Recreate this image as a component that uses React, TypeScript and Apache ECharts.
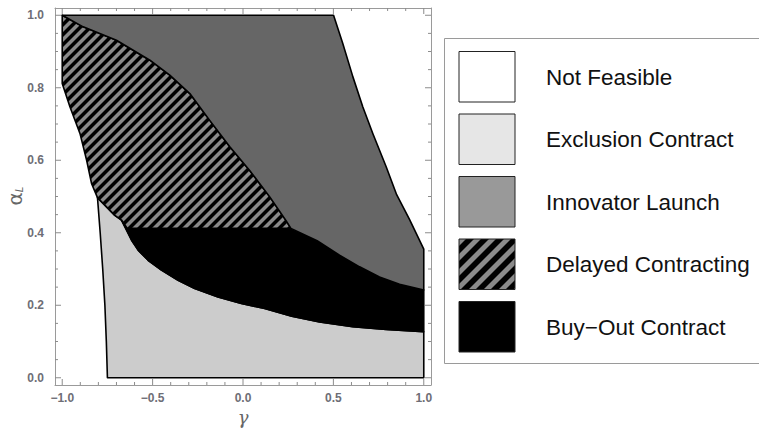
import React, { useEffect, useRef } from 'react';
import * as echarts from 'echarts';

// ---- tick values ----
const xMajorTicks = [-1, -0.5, 0, 0.5, 1];
const xMinorTicks = [-0.9, -0.8, -0.7, -0.6, -0.4, -0.3, -0.2, -0.1, 0.1, 0.2, 0.3, 0.4, 0.6, 0.7, 0.8, 0.9];
const yMajorTicks = [0, 0.2, 0.4, 0.6, 0.8, 1];
const yMinorTicks = [0.05, 0.1, 0.15, 0.25, 0.3, 0.35, 0.45, 0.5, 0.55, 0.65, 0.7, 0.75, 0.85, 0.9, 0.95];

// ---- legend ----
const legendLabels = ['Not Feasible', 'Exclusion Contract', 'Innovator Launch', 'Delayed Contracting', 'Buy\u2212Out Contract'];

// ---- region boundaries (gamma, alpha_L) ----
const hatchTop = [
  [-1, 1], [-0.884, 0.968], [-0.7, 0.931], [-0.515, 0.876], [-0.405, 0.835], [-0.294, 0.784],
  [-0.184, 0.71], [-0.073, 0.637], [0.037, 0.572], [0.148, 0.499], [0.24, 0.432], [0.265, 0.412],
];
const hatchLeft = [
  [-1, 1], [-1, 0.812], [-0.957, 0.747], [-0.902, 0.674], [-0.865, 0.6], [-0.838, 0.536], [-0.805, 0.497],
];
const innovatorRight = [
  [0.501, 1], [0.552, 0.922], [0.608, 0.83], [0.663, 0.747], [0.718, 0.674], [0.792, 0.582],
  [0.85, 0.505], [0.921, 0.437], [1, 0.355],
];
const buyOutTop = [
  [-0.672, 0.435], [-0.64, 0.412], [0.265, 0.412], [0.41, 0.378], [0.534, 0.338], [0.645, 0.306],
  [0.755, 0.278], [0.866, 0.258], [1, 0.242],
];
const exclusionTop = [
  [-0.805, 0.497], [-0.709, 0.448], [-0.672, 0.435], [-0.644, 0.407], [-0.617, 0.38], [-0.58, 0.352],
  [-0.525, 0.324], [-0.451, 0.297], [-0.359, 0.269], [-0.267, 0.246], [-0.138, 0.223], [-0.009, 0.205],
  [0.12, 0.191], [0.27, 0.17], [0.424, 0.154], [0.608, 0.141], [0.792, 0.133], [1, 0.127],
];
const exclusionLeft = [[-0.805, 0.497], [-0.79, 0.4], [-0.776, 0.3], [-0.764, 0.2], [-0.756, 0.1], [-0.75, 0]];
const exclusionBottom = [[1, 0], [-0.75, 0]];

const rev = (a: number[][]) => a.slice().reverse();

const exclusionPoly = [...exclusionTop, ...exclusionBottom, ...rev(exclusionLeft)];
const buyOutPoly = [...buyOutTop, ...rev(exclusionTop.slice(2))];
const hatchPoly = [...hatchTop, [-0.64, 0.412], ...rev(exclusionTop.slice(0, 3)), ...rev(hatchLeft).slice(1)];
const innovatorPoly = [...innovatorRight, ...rev(buyOutTop.slice(2)).slice(0, -1), ...rev(hatchTop)];

function makeHatch(period: number, grayWidth: number) {
  const c = document.createElement('canvas');
  c.width = period;
  c.height = period;
  const ctx = c.getContext('2d')!;
  ctx.fillStyle = '#000';
  ctx.fillRect(0, 0, period, period);
  ctx.fillStyle = '#8a8a8a';
  for (let k = -1; k <= 2; k++) {
    const c0 = k * period;
    ctx.beginPath();
    ctx.moveTo(c0, 0);
    ctx.lineTo(c0 + grayWidth, 0);
    ctx.lineTo(c0 + grayWidth - period, period);
    ctx.lineTo(c0 - period, period);
    ctx.closePath();
    ctx.fill();
  }
  return { image: c.toDataURL(), repeat: 'repeat', imageWidth: period, imageHeight: period } as any;
}

function regionSeries(name: string, poly: number[][], fill: any) {
  return {
    type: 'custom',
    name,
    coordinateSystem: 'cartesian2d',
    xAxisIndex: 0,
    yAxisIndex: 0,
    data: [[0, 0]],
    clip: false,
    silent: true,
    renderItem: (_params: any, api: any) => ({
      type: 'polygon',
      shape: { points: poly.map((p) => api.coord(p)) },
      style: { fill, stroke: '#000', lineWidth: 1.6, lineJoin: 'round' },
    }),
  };
}

const X_MIN = -1.04, X_MAX = 1.04, Y_MIN = -0.02, Y_MAX = 1.02;

const tickSeries = {
  type: 'custom',
  name: 'ticks',
  coordinateSystem: 'cartesian2d',
  xAxisIndex: 0,
  yAxisIndex: 0,
  data: [[0, 0]],
  clip: false,
  silent: true,
  z: 10,
  renderItem: (_params: any, api: any) => {
    const children: any[] = [];
    const ln = (x1: number, y1: number, x2: number, y2: number) => {
      children.push({
        type: 'polyline',
        shape: { points: [[x1, y1], [x2, y2]] },
        style: { stroke: '#8c8c8c', lineWidth: 1, fill: null },
      });
    };
    const addX = (v: number, len: number) => {
      const b = api.coord([v, Y_MIN]);
      const t = api.coord([v, Y_MAX]);
      ln(b[0], b[1], b[0], b[1] - len);
      ln(t[0], t[1], t[0], t[1] + len);
    };
    const addY = (v: number, len: number) => {
      const l = api.coord([X_MIN, v]);
      const r = api.coord([X_MAX, v]);
      ln(l[0], l[1], l[0] + len, l[1]);
      ln(r[0], r[1], r[0] - len, r[1]);
    };
    xMajorTicks.forEach((v) => addX(v, 6));
    xMinorTicks.forEach((v) => addX(v, 3));
    yMajorTicks.forEach((v) => addY(v, 6));
    yMinorTicks.forEach((v) => addY(v, 3));
    return { type: 'group', children };
  },
};

const fmt = (v: number) => (v < 0 ? '\u2212' : '') + Math.abs(v).toFixed(1);

export default function App() {
  const ref = useRef<HTMLDivElement>(null);
  useEffect(() => {
    document.body.style.margin = '0';
    const chart = echarts.init(ref.current!, undefined, { renderer: 'svg' });
    const hatchPlot = makeHatch(10, 5);
    const hatchLegend = makeHatch(15, 7);
    const frame = { show: true, onZero: false, lineStyle: { color: '#9a9a9a', width: 1 } };
    const labelStyle = { color: '#6e6e76', fontSize: 12, fontWeight: 'bold', fontFamily: 'Liberation Sans' };
    const swTop = [51.5, 114, 176.5, 239, 301.5];
    const swFill = ['#ffffff', '#e6e6e6', '#999999', hatchLegend, '#000000'];
    const graphics: any[] = [
      {
        type: 'rect', left: 444, top: 38, z: 0,
        shape: { x: 0, y: 0, width: 330, height: 325 },
        style: { fill: '#fff', stroke: '#9a9a9a', lineWidth: 1 },
      },
    ];
    legendLabels.forEach((lab, i) => {
      graphics.push({
        type: 'rect', x: 459, y: swTop[i], z: 1,
        shape: { x: 0, y: 0, width: 56, height: 50.5 },
        style: { fill: swFill[i], stroke: '#222', lineWidth: 1 },
      });
      graphics.push({
        type: 'text', x: 546, y: swTop[i] + 25.5, z: 1,
        style: {
          text: lab, fill: '#111', font: '22.5px "Liberation Sans", Arial, sans-serif',
          textAlign: 'left', textVerticalAlign: 'middle',
        },
      });
    });
    graphics.push({
      type: 'text', x: 243, y: 417, z: 1,
      style: {
        text: '\u03b3', fill: '#666', font: 'italic 18px "DejaVu Serif", serif',
        textAlign: 'center', textVerticalAlign: 'middle',
      },
    });
    graphics.push({
      type: 'group', x: 15, y: 197, rotation: Math.PI / 2, z: 1,
      children: [
        {
          type: 'text', x: -2, y: 0,
          style: { text: '\u03b1', fill: '#666', font: '20px "DejaVu Sans", sans-serif', textAlign: 'center', textVerticalAlign: 'middle' },
        },
        {
          type: 'text', x: 7.5, y: 4.5,
          style: { text: 'L', fill: '#666', font: 'italic 10px "DejaVu Sans", sans-serif', textAlign: 'center', textVerticalAlign: 'middle' },
        },
      ],
    });

    chart.setOption({
      animation: false,
      backgroundColor: '#fff',
      grid: { left: 55, right: 328, top: 8, bottom: 49, containLabel: false, outerBoundsMode: 'none' },
      xAxis: [
        {
          type: 'value', min: X_MIN, max: X_MAX, position: 'bottom', splitLine: { show: false }, axisLine: frame,
          axisTick: { show: false },
          axisLabel: { show: true, customValues: xMajorTicks, formatter: fmt, margin: 7, ...labelStyle },
        },
        {
          type: 'value', min: X_MIN, max: X_MAX, position: 'top', splitLine: { show: false }, axisLine: frame,
          axisTick: { show: false }, axisLabel: { show: false },
        },
      ],
      yAxis: [
        {
          type: 'value', min: Y_MIN, max: Y_MAX, position: 'left', splitLine: { show: false }, axisLine: frame,
          axisTick: { show: false },
          axisLabel: { show: true, customValues: yMajorTicks, formatter: fmt, margin: 11, ...labelStyle },
        },
        {
          type: 'value', min: Y_MIN, max: Y_MAX, position: 'right', splitLine: { show: false }, axisLine: frame,
          axisTick: { show: false }, axisLabel: { show: false },
        },
      ],
      series: [
        regionSeries('Exclusion Contract', exclusionPoly, '#cccccc'),
        regionSeries('Buy-Out Contract', buyOutPoly, '#000000'),
        regionSeries('Delayed Contracting', hatchPoly, hatchPlot),
        regionSeries('Innovator Launch', innovatorPoly, '#666666'),
        tickSeries,
      ],
      graphic: graphics,
    });
    return () => chart.dispose();
  }, []);
  return <div ref={ref} style={{ width: 759, height: 434 }} />;
}
